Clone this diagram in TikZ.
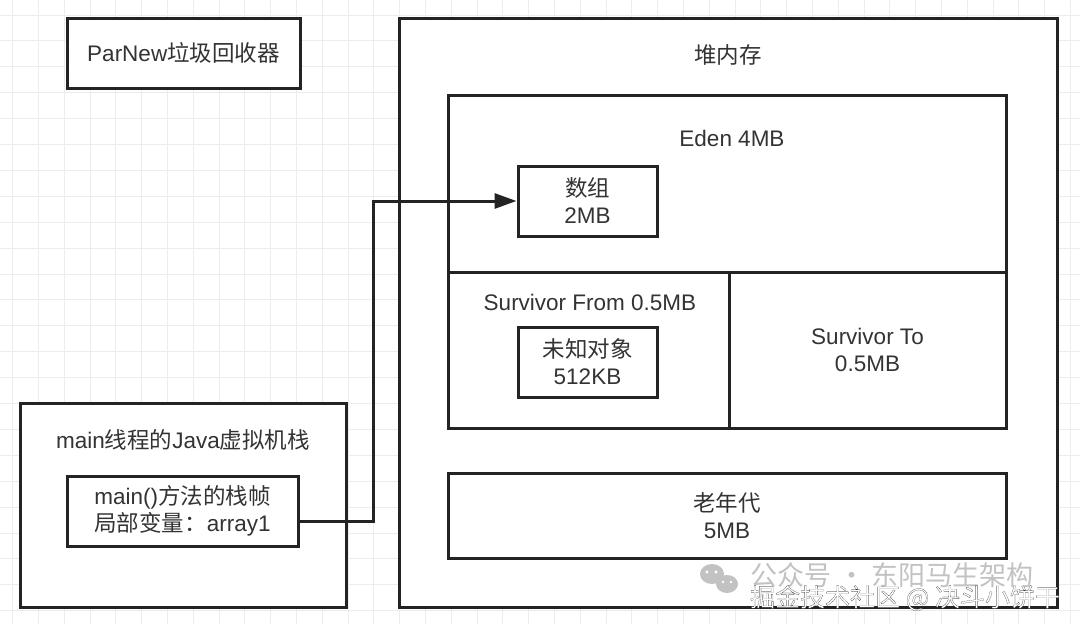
\documentclass[tikz,border=0pt]{standalone}
\usepackage{fontspec}
\setmainfont{Liberation Sans}
\newfontfamily\cjk{Noto Sans CJK SC}
\newcommand{\zh}[1]{{\cjk #1}}
\usetikzlibrary{arrows.meta}
\definecolor{ink}{HTML}{232323}
\definecolor{txt}{HTML}{333333}
\definecolor{gridc}{HTML}{ECECEC}
\definecolor{wmgray}{HTML}{C2C2C2}
\begin{document}
\begin{tikzpicture}[x=1pt,y=-1pt,
  box/.style={draw=ink, line width=3pt, fill=white, inner sep=0pt},
  lbl/.style={text=txt, font=\fontsize{22.5}{27}\selectfont, align=center, inner sep=0pt},
  link/.style={draw=ink, line width=3pt, -{Triangle[length=22pt,width=15pt]}}]
\useasboundingbox (0,0) rectangle (1080,624);
\fill[white] (0,0) rectangle (1080,624);
\foreach \i in {0,...,41} \draw[gridc, line width=1pt] ({12.7+25.8*\i},0) -- ++(0,624);
\foreach \j in {0,...,24} \draw[gridc, line width=1pt] (0,{15+25.9*\j}) -- ++(1080,0);

% collector
\node[box, minimum width=233pt, minimum height=70pt] (parnew) at (183.5,53) {};
\node[lbl] (parnewlbl) at (parnew.center) {ParNew\zh{垃圾回收器}};

% heap
\node[box, minimum width=658pt, minimum height=589pt] (heap) at (728,312.5) {};
\node[lbl] (heaplbl) at (728,55) {\zh{堆内存}};
\node[box, minimum width=558pt, minimum height=177pt] (eden) at (727,183.5) {};
\node[lbl] (edenlbl) at (732,138) {Eden 4MB};
\node[box, minimum width=281pt, minimum height=156pt] (sfrom) at (588.5,350) {};
\node[lbl] (sfromlbl) at (590,302) {Survivor From 0.5MB};
\node[box, minimum width=277pt, minimum height=156pt] (sto) at (867.5,350) {};
\node[lbl] (stolbl) at (sto.center) {Survivor To\\0.5MB};
\node[box, minimum width=139pt, minimum height=70pt] (arr) at (587.5,201) {};
\node[lbl] (arrlbl) at (arr.center) {\zh{数组}\\2MB};
\node[box, minimum width=139pt, minimum height=70pt] (unk) at (587.5,362) {};
\node[lbl] (unklbl) at (unk.center) {\zh{未知对象}\\512KB};
\node[box, minimum width=558pt, minimum height=85pt] (old) at (727,515.5) {};
\node[lbl] (oldlbl) at (old.center) {\zh{老年代}\\5MB};

% stack
\node[box, minimum width=326pt, minimum height=204pt] (stack) at (183,505) {};
\node[lbl] (stacklbl) at (183,440) {main\zh{线程的}Java\zh{虚拟机栈}};
\node[box, minimum width=231pt, minimum height=70pt] (frame) at (182.5,511) {};
\node[lbl] (framelbl) at (frame.center) {main()\zh{方法的栈帧}\\\zh{局部变量：}array1};

% reference arrow
\coordinate (fout) at ([yshift=-10pt]frame.east);
\draw[link] (fout) -- ++(74,0) |- (arr.west);

% watermark
\fill[wmgray] (712,574) ellipse (12pt and 10pt);
\fill[wmgray] (727,584) ellipse (11pt and 9pt);
\fill[white] (707,572) circle (1.6pt) (716,572) circle (1.6pt) (723,582) circle (1.4pt) (731,582) circle (1.4pt);
\node[text=wmgray, font=\cjk\fontsize{27}{30}\selectfont, inner sep=0pt] (wm1) at (892,575) {公众号 · 东阳马生架构};
\node[text=white, font=\cjk\fontsize{25}{28}\selectfont, inner sep=0pt] (wm2) at (905,598)
  {\special{pdf:literal direct 2 Tr 0.09 w 0 0 0 RG}掘金技术社区 @ 决斗小饼干\special{pdf:literal direct 0 Tr}};
\end{tikzpicture}
\end{document}
